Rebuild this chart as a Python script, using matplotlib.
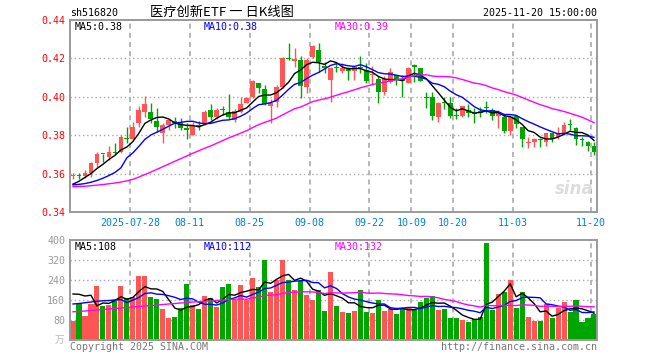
import numpy as np
import pandas as pd
import matplotlib
matplotlib.use("Agg")
import matplotlib.pyplot as plt

# K线数据
opens = [0.3588, 0.3590, 0.3588, 0.3601, 0.3653, 0.3702, 0.3688, 0.3714, 0.3714, 0.3782,
         0.3780, 0.3865, 0.3923, 0.3923, 0.3876, 0.3813, 0.3853, 0.3876, 0.3862, 0.3836,
         0.3801, 0.3853, 0.3862, 0.3931, 0.3897, 0.3933, 0.3923, 0.3879, 0.3923, 0.3969,
         0.4001, 0.4074, 0.4041, 0.3952, 0.3975, 0.4053, 0.4199, 0.4188, 0.4192, 0.4053,
         0.4206, 0.4244, 0.4162, 0.4088, 0.4150, 0.4136, 0.4148, 0.4136, 0.4150, 0.4140,
         0.4112, 0.4091, 0.4027, 0.4079, 0.4114, 0.4086, 0.4074, 0.4159, 0.4148, 0.3996,
         0.3997, 0.3897, 0.3968, 0.3966, 0.3902, 0.3900, 0.3931, 0.3912, 0.3919, 0.3942,
         0.3931, 0.3900, 0.3897, 0.3824, 0.3900, 0.3841, 0.3760, 0.3766, 0.3776, 0.3766,
         0.3810, 0.3792, 0.3810, 0.3854, 0.3836, 0.3776, 0.3766, 0.3744]
closes = [0.3590, 0.3588, 0.3601, 0.3653, 0.3700, 0.3700, 0.3714, 0.3707, 0.3792, 0.3780,
          0.3841, 0.3931, 0.3963, 0.3883, 0.3844, 0.3853, 0.3879, 0.3862, 0.3836, 0.3827,
          0.3848, 0.3844, 0.3923, 0.3897, 0.3931, 0.3931, 0.3897, 0.3928, 0.3963, 0.3992,
          0.4082, 0.4044, 0.3963, 0.3966, 0.4053, 0.4200, 0.4197, 0.4190, 0.4056, 0.4192,
          0.4265, 0.4183, 0.4148, 0.4148, 0.4148, 0.4148, 0.4136, 0.4157, 0.4148, 0.4084,
          0.4114, 0.4027, 0.4091, 0.4131, 0.4088, 0.4084, 0.4152, 0.4157, 0.4084, 0.3994,
          0.3900, 0.3969, 0.3966, 0.3900, 0.3900, 0.3952, 0.3914, 0.3910, 0.3917, 0.3940,
          0.3900, 0.3923, 0.3824, 0.3897, 0.3858, 0.3778, 0.3761, 0.3778, 0.3775, 0.3810,
          0.3778, 0.3810, 0.3853, 0.3853, 0.3778, 0.3775, 0.3744, 0.3714]
highs = [0.3601, 0.3605, 0.3619, 0.3662, 0.3714, 0.3702, 0.3744, 0.3761, 0.3801, 0.3841,
         0.3870, 0.3952, 0.4004, 0.3966, 0.3940, 0.3862, 0.3883, 0.3897, 0.3888, 0.3862,
         0.3870, 0.3876, 0.3931, 0.3963, 0.3940, 0.3952, 0.4015, 0.3935, 0.3997, 0.3997,
         0.4088, 0.4074, 0.4061, 0.3987, 0.4061, 0.4209, 0.4278, 0.4252, 0.4213, 0.4200,
         0.4270, 0.4282, 0.4183, 0.4157, 0.4174, 0.4178, 0.4157, 0.4160, 0.4213, 0.4174,
         0.4160, 0.4108, 0.4108, 0.4148, 0.4114, 0.4114, 0.4157, 0.4171, 0.4148, 0.4027,
         0.4027, 0.3975, 0.3997, 0.4001, 0.3940, 0.3952, 0.3963, 0.3940, 0.3948, 0.3980,
         0.3940, 0.3931, 0.3905, 0.3905, 0.3905, 0.3844, 0.3789, 0.3784, 0.3784, 0.3813,
         0.3813, 0.3841, 0.3870, 0.3883, 0.3844, 0.3792, 0.3772, 0.3766]
lows = [0.3572, 0.3570, 0.3575, 0.3581, 0.3636, 0.3662, 0.3671, 0.3702, 0.3709, 0.3758,
        0.3775, 0.3844, 0.3897, 0.3862, 0.3818, 0.3761, 0.3827, 0.3836, 0.3827, 0.3778,
        0.3799, 0.3827, 0.3851, 0.3879, 0.3883, 0.3905, 0.3883, 0.3870, 0.3914, 0.3966,
        0.3992, 0.4018, 0.3957, 0.3862, 0.3945, 0.4044, 0.4192, 0.4157, 0.3992, 0.4022,
        0.4200, 0.4131, 0.4122, 0.3975, 0.4131, 0.4122, 0.4088, 0.4088, 0.4122, 0.4070,
        0.4061, 0.3969, 0.4009, 0.4070, 0.4061, 0.4001, 0.4070, 0.4079, 0.4084, 0.3940,
        0.3879, 0.3870, 0.3935, 0.3888, 0.3883, 0.3897, 0.3897, 0.3862, 0.3897, 0.3914,
        0.3879, 0.3836, 0.3810, 0.3801, 0.3836, 0.3740, 0.3732, 0.3740, 0.3740, 0.3744,
        0.3766, 0.3778, 0.3801, 0.3827, 0.3749, 0.3744, 0.3719, 0.3697]
# 成交量 (万)
volume = [77, 149, 96, 144, 216, 136, 140, 156, 216, 167,
          173, 256, 256, 171, 164, 124, 88, 92, 128, 224,
          140, 124, 176, 168, 132, 212, 224, 160, 220, 160,
          249, 212, 320, 192, 240, 320, 240, 200, 237, 180,
          160, 200, 116, 272, 136, 112, 108, 116, 200, 112,
          108, 160, 116, 124, 104, 128, 132, 120, 152, 168,
          176, 120, 124, 88, 88, 80, 72, 84, 92, 388,
          120, 184, 192, 240, 128, 192, 92, 76, 76, 144,
          88, 128, 152, 112, 160, 72, 88, 104]

# moving-average values before enough history is on screen
ma5_head = [0.3545, 0.3560, 0.3580, 0.3600]
ma10_head = [0.3541, 0.3544, 0.3548, 0.3555, 0.3564, 0.3576, 0.3590, 0.3606, 0.3630]
ma30_head = [0.3532, 0.3533, 0.3534, 0.3537, 0.3540, 0.3543, 0.3547, 0.3551, 0.3556, 0.3562,
             0.3570, 0.3582, 0.3595, 0.3608, 0.3622, 0.3636, 0.3650, 0.3664, 0.3678, 0.3692,
             0.3706, 0.3719, 0.3732, 0.3744, 0.3758, 0.3772, 0.3786, 0.3798, 0.3811]
vma5_head = [184, 183, 176, 179]
vma10_head = [144, 146, 149, 152, 155, 157, 158, 160, 162]
vma30_head = [113, 114, 116, 118, 120, 122, 124, 126, 128, 130,
              132, 134, 136, 138, 140, 142, 144, 146, 148, 150,
              152, 153, 155, 156, 158, 160, 161, 163, 164]

tick_idx = [10, 20, 30, 40, 50, 57, 64, 74, 87]
tick_lab = ["2025-07-28", "08-11", "08-25", "09-08", "09-22", "10-09", "10-20", "11-03", "11-20"]


def ma(vals, n, head):
    s = pd.Series(vals, dtype=float).rolling(n).mean()
    s.iloc[:len(head)] = head
    return s.values


RED = "#ff5555"
GREEN = "#00a600"
GRID = "#aaaaaa"
MONO = "DejaVu Sans Mono"
FS = 7.2

W, H = 660, 360
fig = plt.figure(figsize=(6.6, 3.6), dpi=100)


def box(l, t, r, b):
    return [l / W, 1 - b / H, (r - l) / W, (b - t) / H]


def px(x, y):
    return x / W, 1 - y / H


ax = fig.add_axes(box(70, 20, 597, 212))
axv = fig.add_axes(box(70, 240, 597, 340))

n = len(closes)
x = np.arange(n) + 0.5
o = np.array(opens)
c = np.array(closes)
up = c >= o
cols = [RED if u else GREEN for u in up]

for a in (ax, axv):
    for v in tick_idx:
        a.axvline(v, color=GRID, lw=1.2, ls=(0, (3, 2.5)), zorder=0)
    for s in a.spines.values():
        s.set_color("#9a9a9a")
        s.set_linewidth(1.4)
    a.set_xlim(0, n)
    a.tick_params(length=0)

# 主图
for lv in [0.36, 0.38, 0.40, 0.42]:
    ax.axhline(lv, color=GRID, lw=1, ls=(0, (1, 2)), zorder=0)
ax.vlines(x, lows, highs, colors=cols, lw=1, zorder=2)
body_h = np.maximum(np.abs(c - o), 0.0007)
body_b = np.minimum(o, c)
ax.bar(x, body_h, bottom=body_b, width=0.8, color=cols, zorder=3)
ax.plot(x, ma(closes, 5, ma5_head), color="black", lw=1, zorder=4)
ax.plot(x, ma(closes, 10, ma10_head), color="#0000ff", lw=1, zorder=4)
ax.plot(x, ma(closes, 30, ma30_head), color="#ff00ff", lw=1, zorder=4)
ax.set_ylim(0.34, 0.44)
ax.set_yticks([0.34, 0.36, 0.38, 0.40, 0.42, 0.44])
ax.set_yticklabels(["0.34", "0.36", "0.38", "0.40", "0.42", "0.44"],
                   color="#ff0000", family=MONO, fontsize=FS)
ax.set_xticks(tick_idx)
ax.set_xticklabels(tick_lab, color="#0080d0", family=MONO, fontsize=FS)
ax.tick_params(axis="x", pad=4)

# 成交量
for lv in [80, 160, 240, 320]:
    axv.axhline(lv, color=GRID, lw=1, ls=(0, (1, 2)), zorder=0)
axv.bar(x, volume, width=0.85, color=cols, zorder=2)
axv.plot(x, ma(volume, 5, vma5_head), color="black", lw=1, zorder=3)
axv.plot(x, ma(volume, 10, vma10_head), color="#0000ff", lw=1, zorder=3)
axv.plot(x, ma(volume, 30, vma30_head), color="#ff00ff", lw=1, zorder=3)
axv.set_ylim(0, 400)
axv.set_yticks([80, 160, 240, 320, 400])
axv.set_yticklabels(["80", "160", "240", "320", "400"], color="#999999",
                    family=MONO, fontsize=FS)
axv.set_xticks([])

# 文字
fig.text(*px(70, 13), "sh516820", family=MONO, fontsize=FS, va="center", ha="left")
fig.text(*px(222, 12), "医疗创新ETF 一 日K线图", family=["Noto Sans CJK SC", "DejaVu Sans"],
         fontsize=9.5, va="center", ha="center")
fig.text(*px(597, 13), "2025-11-20 15:00:00", family=MONO, fontsize=FS, va="center", ha="right")

fig.text(*px(75, 26.5), "MA5:0.38", family=MONO, fontsize=FS, va="center", color="black")
fig.text(*px(204, 26.5), "MA10:0.38", family=MONO, fontsize=FS, va="center", color="#0000ff")
fig.text(*px(335, 26.5), "MA30:0.39", family=MONO, fontsize=FS, va="center", color="#ff00ff")
fig.text(*px(75, 246.5), "MA5:108", family=MONO, fontsize=FS, va="center", color="black")
fig.text(*px(204, 246.5), "MA10:112", family=MONO, fontsize=FS, va="center", color="#0000ff")
fig.text(*px(335, 246.5), "MA30:132", family=MONO, fontsize=FS, va="center", color="#ff00ff")

fig.text(*px(70, 347), "Copyright 2025 SINA.COM", family=MONO, fontsize=FS,
         va="center", ha="left", color="#777777")
fig.text(*px(597, 347), "http://finance.sina.com.cn", family=MONO, fontsize=FS,
         va="center", ha="right", color="#777777")
fig.text(*px(64, 340), "万", family=["Noto Sans CJK SC"], fontsize=7,
         va="center", ha="right", color="#bbbbbb")
fig.text(*px(594, 198), "sina", fontsize=12, style="italic", weight="bold",
         va="bottom", ha="right", color="#dcdcdc", zorder=0)

fig.savefig("out.png", dpi=100)
